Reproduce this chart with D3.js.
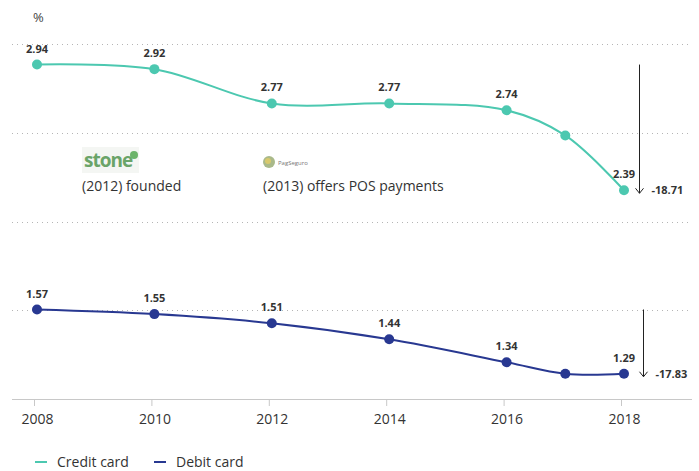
<html>
<head>
<meta charset="utf-8">
<script src="https://cdn.jsdelivr.net/npm/d3@7"></script>
<style>
  body { margin: 0; background: #fff; }
  text { font-family: "Open Sans", "Noto Sans", sans-serif; }
</style>
</head>
<body>
<div id="chartContainer"></div>
<script>

// data
var years = [2008, 2010, 2012, 2014, 2016, 2017, 2018];
var tickYears = [2008, 2010, 2012, 2014, 2016, 2018];
var credit = [2.94, 2.92, 2.77, 2.77, 2.74, 2.63, 2.39];
var debit = [1.57, 1.55, 1.51, 1.44, 1.34, 1.29, 1.29];
// which points get a value label (2017 has none)
var labelled = [true, true, true, true, true, false, true];
var seriesNames = ["Credit card", "Debit card"];
var colors = ["#4cc8b0", "#283891"];

var W = 699, H = 471;
var svg = d3.select("#chartContainer").append("svg")
  .attr("width", W).attr("height", H);

// x scale
var x = d3.scaleLinear().domain([2008, 2018]).range([37, 624]);

// the chart has a broken y axis: two panels with the same px per unit
var yCredit = d3.scaleLinear().domain([2.26, 3.03]).range([220, 44]);
var yDebit = d3.scaleLinear().domain([1.18, 1.96]).range([399, 220]);
var yGrid = d3.scaleLinear().domain([0, 4]).range([399, 44]);

// dotted gridlines
svg.selectAll("line.grid")
  .data([1, 2, 3, 4])
  .enter().append("line")
  .attr("class", "grid")
  .attr("x1", 12).attr("x2", 692)
  .attr("y1", function(d) { return Math.round(yGrid(d)) + 0.5; })
  .attr("y2", function(d) { return Math.round(yGrid(d)) + 0.5; })
  .attr("stroke", "#b5b5b5")
  .attr("stroke-width", 1)
  .attr("stroke-dasharray", "1,4");

// x axis
var xAxis = d3.axisBottom(x)
  .tickValues(tickYears)
  .tickFormat(d3.format("d"))
  .tickSize(7)
  .tickPadding(8);
var gx = svg.append("g")
  .attr("transform", "translate(0,399)")
  .call(xAxis);
gx.select(".domain").remove();
gx.insert("line", ":first-child")
  .attr("x1", 12).attr("x2", 692)
  .attr("y1", 0.5).attr("y2", 0.5)
  .attr("stroke", "#c8c8c8");
gx.selectAll(".tick line").attr("stroke", "#c8c8c8").attr("transform", "translate(-3,0)");
gx.selectAll(".tick text")
  .attr("font-size", 14)
  .attr("fill", "#333")
  .style("font-family", "'Open Sans', sans-serif");

// % unit label
svg.append("text")
  .attr("x", 33).attr("y", 22)
  .attr("font-size", 13)
  .attr("fill", "#444")
  .text("%");

// annotations (logos approximated with text)
var stone = svg.append("g").attr("transform", "translate(82,147)");
stone.append("rect").attr("width", 57).attr("height", 26).attr("fill", "#f4f6f3");
stone.append("text")
  .attr("x", 2).attr("y", 20)
  .attr("font-size", 19)
  .attr("font-weight", "bold")
  .attr("letter-spacing", -1)
  .attr("fill", "#6aa468")
  .text("stone");
stone.append("circle").attr("cx", 52).attr("cy", 8).attr("r", 4)
  .attr("fill", "#6cb46a");
svg.append("text")
  .attr("x", 82).attr("y", 191)
  .attr("font-size", 14)
  .attr("fill", "#333")
  .text("(2012) founded");

var pag = svg.append("g").attr("transform", "translate(263,155)");
pag.append("circle").attr("cx", 6).attr("cy", 7).attr("r", 6).attr("fill", "#a9b98a");
pag.append("circle").attr("cx", 5).attr("cy", 6).attr("r", 3).attr("fill", "#d8c96d");
pag.append("text")
  .attr("x", 15).attr("y", 10)
  .attr("font-size", 6)
  .attr("fill", "#777")
  .text("PagSeguro");
svg.append("text")
  .attr("x", 263).attr("y", 191)
  .attr("font-size", 14)
  .attr("fill", "#333")
  .text("(2013) offers POS payments");

// series
var series = [
  { name: seriesNames[0], values: credit, y: yCredit, color: colors[0], arrowDx: 15 },
  { name: seriesNames[1], values: debit, y: yDebit, color: colors[1], arrowDx: 19 }
];

series.forEach(function(s) {
  var pts = years.map(function(yr, i) { return { year: yr, v: s.values[i], lab: labelled[i] }; });
  var line = d3.line()
    .x(function(d) { return x(d.year); })
    .y(function(d) { return s.y(d.v); })
    .curve(d3.curveCatmullRom.alpha(0.5));

  svg.append("path")
    .datum(pts)
    .attr("d", line)
    .attr("fill", "none")
    .attr("stroke", s.color)
    .attr("stroke-width", 2);

  svg.selectAll(null)
    .data(pts)
    .enter().append("circle")
    .attr("cx", function(d) { return x(d.year); })
    .attr("cy", function(d) { return s.y(d.v); })
    .attr("r", 5)
    .attr("fill", s.color);

  svg.selectAll(null)
    .data(pts.filter(function(d) { return d.lab; }))
    .enter().append("text")
    .attr("x", function(d) { return x(d.year); })
    .attr("y", function(d) { return s.y(d.v) - 12; })
    .attr("text-anchor", "middle")
    .attr("font-size", 11)
    .attr("font-weight", "bold")
    .attr("fill", "#333")
    .text(function(d) { return d.v.toFixed(2); });

  // change arrow from first to last value
  var first = s.values[0], last = s.values[s.values.length - 1];
  var ax = Math.round(x(2018) + s.arrowDx) + 0.5;
  var y0 = s.y(first), y1 = s.y(last) + 3;
  svg.append("line")
    .attr("x1", ax).attr("x2", ax)
    .attr("y1", y0).attr("y2", y1)
    .attr("stroke", "#222").attr("stroke-width", 1);
  svg.append("path")
    .attr("d", "M" + (ax - 4) + "," + (y1 - 5) + "L" + ax + "," + y1 + "L" + (ax + 4) + "," + (y1 - 5))
    .attr("fill", "none").attr("stroke", "#222").attr("stroke-width", 1);
  svg.append("text")
    .attr("x", ax + 12).attr("y", y1 + 1)
    .attr("font-size", 11)
    .attr("font-weight", "bold")
    .attr("fill", "#333")
    .text(((last - first) / first * 100).toFixed(2));
});

// legend
var legend = svg.append("g").attr("transform", "translate(35,462)");
var items = legend.selectAll("g")
  .data(series)
  .enter().append("g")
  .attr("transform", function(d, i) { return "translate(" + (i * 119) + ",0)"; });
items.append("line")
  .attr("x1", 0).attr("x2", 12)
  .attr("y1", 0).attr("y2", 0)
  .attr("stroke", function(d) { return d.color; })
  .attr("stroke-width", 2);
items.append("text")
  .attr("x", 22).attr("y", 5)
  .attr("font-size", 14)
  .attr("fill", "#333")
  .text(function(d) { return d.name; });

</script>
</body>
</html>
